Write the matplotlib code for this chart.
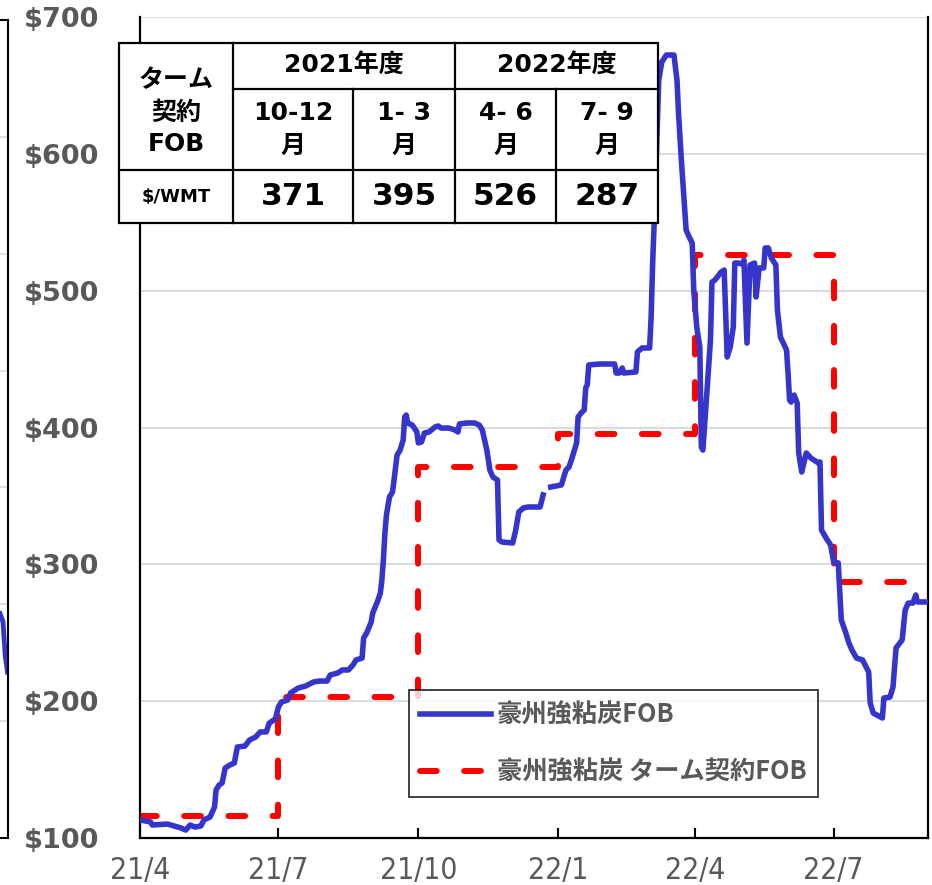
import matplotlib
matplotlib.use("Agg")
import matplotlib.pyplot as plt
import numpy as np
import pandas as pd
from matplotlib.patches import Rectangle

# ---------------- data ----------------
spot_dates = [
    "2021-04-01", "2021-04-08", "2021-04-09", "2021-04-19", "2021-04-28", "2021-05-01",
    "2021-05-04", "2021-05-07", "2021-05-11", "2021-05-13", "2021-05-17", "2021-05-20",
    "2021-05-21", "2021-05-23", "2021-05-25", "2021-05-27", "2021-05-30", "2021-06-02",
    "2021-06-04", "2021-06-09", "2021-06-12", "2021-06-16", "2021-06-19", "2021-06-23",
    "2021-06-25", "2021-06-29", "2021-07-01", "2021-07-03", "2021-07-07", "2021-07-09",
    "2021-07-14", "2021-07-19", "2021-07-24", "2021-07-28", "2021-08-02", "2021-08-04",
    "2021-08-09", "2021-08-12", "2021-08-16", "2021-08-19", "2021-08-21", "2021-08-25",
    "2021-08-26", "2021-08-28", "2021-08-31", "2021-09-01", "2021-09-04", "2021-09-06",
    "2021-09-07", "2021-09-08", "2021-09-09", "2021-09-10", "2021-09-12", "2021-09-14",
    "2021-09-15", "2021-09-17", "2021-09-19", "2021-09-21", "2021-09-22", "2021-09-23",
    "2021-09-24", "2021-09-27", "2021-09-30", "2021-10-01", "2021-10-03", "2021-10-05",
    "2021-10-08", "2021-10-12", "2021-10-14", "2021-10-16", "2021-10-21", "2021-10-25",
    "2021-10-27", "2021-10-28", "2021-11-02", "2021-11-07", "2021-11-10", "2021-11-12",
    "2021-11-15", "2021-11-17", "2021-11-19", "2021-11-22", "2021-11-23", "2021-11-25",
    "2021-12-02", "2021-12-04", "2021-12-06", "2021-12-09", "2021-12-12", "2021-12-20",
    "2021-12-22", "2021-12-24", "2021-12-27", "2022-01-03", "2022-01-06", "2022-01-08",
    "2022-01-10", "2022-01-13", "2022-01-14", "2022-01-16", "2022-01-18", "2022-01-19",
    "2022-01-20", "2022-01-21", "2022-01-28", "2022-02-07", "2022-02-08", "2022-02-10",
    "2022-02-12", "2022-02-13", "2022-02-21", "2022-02-22", "2022-02-25", "2022-03-02",
    "2022-03-03", "2022-03-04", "2022-03-05", "2022-03-08", "2022-03-10", "2022-03-13",
    "2022-03-18", "2022-03-20", "2022-03-21", "2022-03-23", "2022-03-26", "2022-03-28",
    "2022-03-30", "2022-03-31", "2022-04-02", "2022-04-04", "2022-04-05", "2022-04-06",
    "2022-04-08", "2022-04-11", "2022-04-12", "2022-04-14", "2022-04-18", "2022-04-20",
    "2022-04-22", "2022-04-24", "2022-04-26", "2022-04-27", "2022-04-29", "2022-05-02",
    "2022-05-03", "2022-05-05", "2022-05-07", "2022-05-10", "2022-05-11", "2022-05-13",
    "2022-05-16", "2022-05-17", "2022-05-19", "2022-05-21", "2022-05-24", "2022-05-25",
    "2022-05-27", "2022-05-31", "2022-06-01", "2022-06-02", "2022-06-03", "2022-06-05",
    "2022-06-07", "2022-06-08", "2022-06-10", "2022-06-13", "2022-06-16", "2022-06-21",
    "2022-06-22", "2022-06-23", "2022-06-26", "2022-06-29", "2022-07-01", "2022-07-04",
    "2022-07-06", "2022-07-09", "2022-07-11", "2022-07-13", "2022-07-16", "2022-07-20",
    "2022-07-24", "2022-07-25", "2022-07-27", "2022-08-02", "2022-08-03", "2022-08-07",
    "2022-08-09", "2022-08-11", "2022-08-15", "2022-08-17", "2022-08-19", "2022-08-22",
    "2022-08-24", "2022-08-25", "2022-09-01",
]
spot_values = [
    113.2, 111.7, 109.5, 110.2, 107.3, 105.8,
    109.5, 108.0, 108.8, 113.2, 115.3, 122.7,
    135.1, 138.7, 140.2, 151.2, 153.3, 154.8,
    166.5, 167.2, 171.6, 173.8, 177.5, 177.5,
    184.0, 187.0, 195.8, 199.4, 200.8, 206.0,
    209.6, 211.1, 214.0, 214.7, 214.7, 219.1,
    220.6, 222.8, 222.8, 226.4, 230.1, 231.5,
    246.2, 249.8, 257.9, 264.4, 272.5, 279.0,
    288.5, 303.2, 322.9, 336.1, 349.2, 352.9,
    361.6, 379.9, 383.5, 390.9, 407.7, 409.1,
    403.3, 401.8, 396.7, 388.7, 389.4, 396.0,
    396.7, 400.4, 401.1, 399.6, 399.6, 398.2,
    396.7, 402.6, 403.3, 403.3, 401.8, 398.2,
    383.5, 368.9, 363.8, 361.6, 317.8, 316.3,
    315.6, 325.1, 338.2, 341.2, 341.9, 341.9,
    350.7, np.nan, 356.5, 358.0, 368.9, 371.1,
    377.7, 388.7, 407.7, 410.6, 412.8, 428.9,
    431.1, 445.7, 446.4, 446.4, 439.8, 439.8,
    443.5, 439.8, 440.6, 455.2, 458.1, 458.1,
    480.7, 520.2, 549.4, 653.9, 667.1, 672.2,
    672.2, 653.9, 629.8, 593.3, 544.3, 539.2,
    534.8, 500.5, 473.4, 458.8, 385.7, 383.5,
    415.0, 463.9, 506.3, 507.8, 513.6, 515.1,
    451.5, 458.8, 473.4, 520.2, 520.2, 519.5,
    522.4, 461.7, 518.8, 520.2, 495.4, 516.6,
    516.6, 531.2, 531.2, 523.9, 518.8, 485.9,
    466.1, 456.6, 439.8, 420.1, 418.6, 423.7,
    417.9, 381.4, 367.5, 381.4, 377.7, 374.0,
    374.8, 325.1, 319.2, 314.1, 301.7, 301.0,
    259.3, 249.8, 242.5, 237.4, 231.5, 230.1,
    221.3, 198.7, 191.3, 187.7, 202.3, 203.0,
    210.3, 238.9, 244.7, 266.6, 271.7, 271.7,
    277.6, 272.5, 272.5,
]

term_starts = ["2021-04-01", "2021-07-01", "2021-10-01", "2022-01-01", "2022-04-01", "2022-07-01"]
term_values = [116, 203, 371, 395, 526, 287]
period_end = "2022-09-01"

table_years = ["2021年度", "2022年度"]
table_quarters = ["10-12\n月", "1- 3\n月", "4- 6\n月", "7- 9\n月"]
table_values = [371, 395, 526, 287]

x_tick_dates = ["2021-04-01", "2021-07-01", "2021-10-01", "2022-01-01", "2022-04-01", "2022-07-01"]
x_tick_labels = ["21/4", "21/7", "21/10", "22/1", "22/4", "22/7"]
y_ticks = [100, 200, 300, 400, 500, 600, 700]

series_labels = ["豪州強粘炭FOB", "豪州強粘炭 ターム契約FOB"]

# fragment of neighbouring panel at far left
left_panel_x = [0.0, 0.4, 0.7, 1.0]
left_panel_values = [1.92, 1.85, 1.56, 1.42]

# ---------------- styling ----------------
BLUE = "#3535CC"
RED = "#FF0000"
GRAY = "#595959"
GRID = "#D9D9D9"
CJK = ["DejaVu Sans", "Noto Sans CJK JP"]
CJK_LEG = ["Noto Sans CJK JP", "DejaVu Sans"]

W, H = 932, 885
fig = plt.figure(figsize=(W / 100, H / 100), dpi=100)

# left fragment panel
axl = fig.add_axes([0.0, (H - 838) / H, 7.5 / W, (838 - 20) / H])
axl.set_xlim(0, 1)
axl.set_ylim(0, 7)
axl.set_yticks(range(1, 7))
axl.grid(axis="y", color=GRID, lw=1.2)
axl.tick_params(left=False, bottom=False, labelleft=False, labelbottom=False)
axl.plot(left_panel_x, left_panel_values, color=BLUE, lw=3.5)
axl.spines["left"].set_visible(False)
for s in ["right", "top", "bottom"]:
    axl.spines[s].set_linewidth(1.5)

# main axes
ax = fig.add_axes([140 / W, (H - 838) / H, (928 - 140) / W, (838 - 17) / H])

sd = pd.to_datetime(spot_dates)
ax.plot(sd, spot_values, color=BLUE, lw=4, solid_joinstyle="round", zorder=3,
        label=series_labels[0])

tx = pd.to_datetime(term_starts + [period_end])
ty = term_values + [term_values[-1]]
ax.plot(tx, ty, color=RED, lw=4.3, drawstyle="steps-post", linestyle=(0, (2.8, 4.6)),
        dash_capstyle="round", zorder=2, label=series_labels[1])

ax.set_xlim(pd.Timestamp("2021-04-01"), pd.Timestamp(period_end))
ax.set_ylim(100, 700)
ax.set_yticks(y_ticks)
ax.set_yticklabels([f"${v}" for v in y_ticks])
ax.set_xticks(pd.to_datetime(x_tick_dates))
ax.set_xticklabels(x_tick_labels)
ax.grid(axis="y", color=GRID, lw=1.3, zorder=0)
ax.set_axisbelow(True)

ax.tick_params(axis="y", length=0, pad=29, labelsize=19.5, labelcolor=GRAY)
for lab in ax.get_yticklabels():
    lab.set_fontweight("bold")
    lab.set_fontfamily("DejaVu Sans")
ax.tick_params(axis="x", direction="in", length=7, width=1.5, pad=13,
               labelsize=21.5, labelcolor=GRAY)
for lab in ax.get_xticklabels():
    lab.set_fontfamily("DejaVu Sans")
    lab.set_fontstretch("condensed")

ax.spines["top"].set_visible(False)
for s in ["left", "bottom", "right"]:
    ax.spines[s].set_linewidth(1.6)
    ax.spines[s].set_color("black")

leg = ax.legend(loc="upper left", bbox_to_anchor=(409 / W, 1 - 690 / H),
                bbox_transform=fig.transFigure, borderaxespad=0,
                frameon=True, fancybox=False, edgecolor="black",
                prop={"family": CJK_LEG, "weight": "bold", "size": 18.2},
                handlelength=2.8, handletextpad=0.22, labelspacing=1.2,
                borderpad=0.45)
leg.get_frame().set_linewidth(1.3)
for t in leg.get_texts():
    t.set_color(GRAY)

# ---------------- table overlay ----------------
ov = fig.add_axes([0, 0, 1, 1], zorder=10)
ov.set_xlim(0, W)
ov.set_ylim(H, 0)
ov.axis("off")
cx = [119, 233, 353, 455, 556, 658]
ry = [43, 89, 170, 223]
ov.add_patch(Rectangle((cx[0], ry[0]), cx[-1] - cx[0], ry[-1] - ry[0],
                       facecolor="white", edgecolor="black", lw=1.6))
lkw = dict(color="black", lw=1.6)
ov.plot([cx[1], cx[-1]], [ry[1], ry[1]], **lkw)
ov.plot([cx[0], cx[-1]], [ry[2], ry[2]], **lkw)
ov.plot([cx[1], cx[1]], [ry[0], ry[-1]], **lkw)
ov.plot([cx[3], cx[3]], [ry[0], ry[-1]], **lkw)
ov.plot([cx[2], cx[2]], [ry[1], ry[-1]], **lkw)
ov.plot([cx[4], cx[4]], [ry[1], ry[-1]], **lkw)

tkw = dict(ha="center", va="center", fontweight="bold", color="black", family=CJK)
ov.text((cx[0] + cx[1]) / 2, (ry[0] + ry[2]) / 2 + 6, "ターム\n契約\nFOB",
        fontsize=18, linespacing=1.42, **tkw)
ov.text((cx[1] + cx[3]) / 2, (ry[0] + ry[1]) / 2, table_years[0], fontsize=18, **tkw)
ov.text((cx[3] + cx[5]) / 2, (ry[0] + ry[1]) / 2, table_years[1], fontsize=18, **tkw)
for i, q in enumerate(table_quarters):
    ov.text((cx[i + 1] + cx[i + 2]) / 2, (ry[1] + ry[2]) / 2, q, fontsize=18,
            linespacing=1.45, **tkw)
ov.text((cx[0] + cx[1]) / 2, (ry[2] + ry[3]) / 2, "$/WMT", fontsize=13, **tkw)
for i, v in enumerate(table_values):
    ov.text((cx[i + 1] + cx[i + 2]) / 2, (ry[2] + ry[3]) / 2, str(v), fontsize=22.5, **tkw)

fig.savefig("out.png", dpi=100)
